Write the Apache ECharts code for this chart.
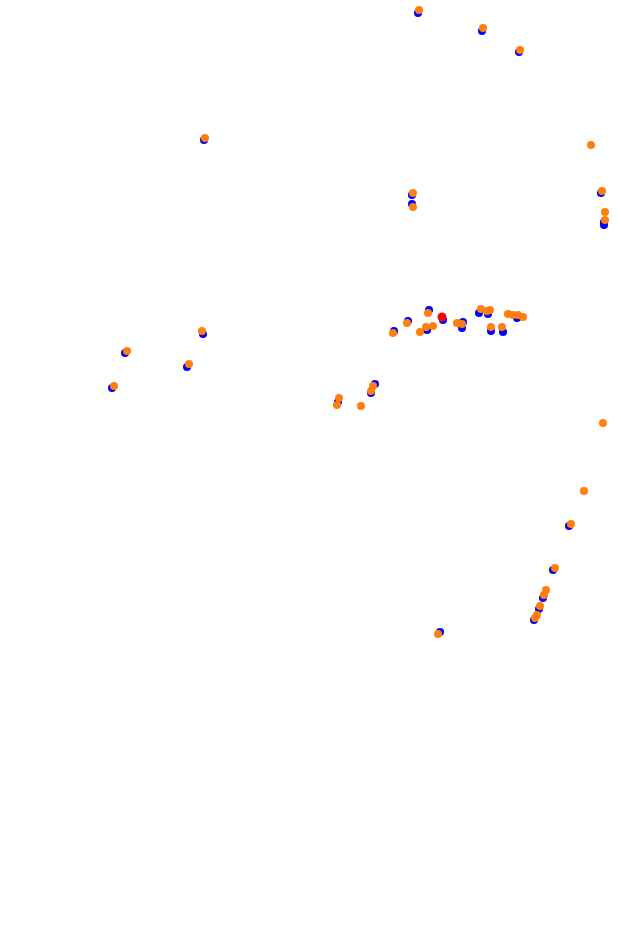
<!DOCTYPE html>
<html>
<head>
<meta charset="utf-8">
<script src="https://cdn.jsdelivr.net/npm/echarts@6/dist/echarts.min.js"></script>
<style>html,body{margin:0;padding:0;background:#fff}#c{width:621px;height:939px}</style>
</head>
<body>
<div id="c"></div>
<script>
const orangePoints = [
  [419,10],[483,28],[520,50],[205,138],[591,145],[413,193],[602,191],[413,207],[605,212],[605,220],
  [428,313],[407,323],[393,333],[420,332],[426,327],[433,326],[457,323],[462,324],[481,309],[487,311],
  [490,310],[491,327],[502,327],[508,314],[513,315],[518,315],[523,317],
  [202,331],[127,351],[189,364],[114,386],
  [339,398],[337,405],[373,386],[371,391],[361,406],
  [603,423],[584,491],[571,524],[555,568],[546,590],[544,595],[540,606],[537,615],[535,618],[438,634]
];
const bluePoints = [
  [418,13],[482,31],[519,52],[204,140],[412,195],[412,204],[601,193],[604,225],[604,222],
  [394,331],[408,321],[429,310],[443,320],[427,330],[463,322],[462,328],[479,313],[488,314],[491,331],[503,332],[517,318],
  [203,334],[125,353],[187,367],[112,388],
  [338,402],[375,384],[371,393],
  [569,526],[553,570],[543,598],[539,609],[534,620],[440,632]
];
const redPoints = [[442,317]];

const chart = echarts.init(document.getElementById('c'), null, {renderer:'canvas'});
chart.setOption({
  animation: false,
  backgroundColor: '#ffffff',
  grid: {left: 0, right: 0, top: 0, bottom: 0},
  xAxis: {type: 'value', min: 0, max: 621, show: false},
  yAxis: {type: 'value', min: 0, max: 939, inverse: true, show: false},
  series: [
    {type: 'scatter', data: bluePoints, symbolSize: 8, itemStyle: {color: '#0000ff', opacity: 1}, z: 1},
    {type: 'scatter', data: orangePoints, symbolSize: 8, itemStyle: {color: '#ff7f0e', opacity: 1}, z: 2},
    {type: 'scatter', data: redPoints, symbolSize: 9, itemStyle: {color: '#ff0000', opacity: 1}, z: 3}
  ]
});
</script>
</body>
</html>
